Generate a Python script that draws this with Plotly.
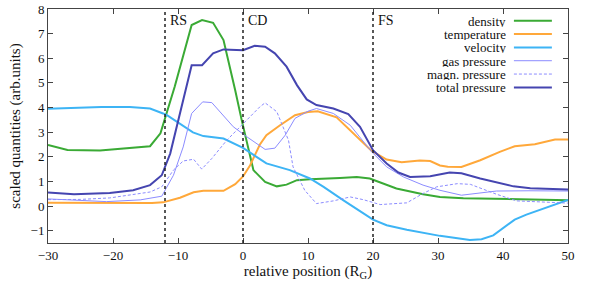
import plotly.graph_objects as go

# ---- data ----
density_x = [-30, -27, -22, -14.3, -12.7, -10.5, -7.9, -6.3, -4.6, -3.0, -1.2, -0.2, 1.6, 3.4, 5.2, 6.7, 8.3, 10.3, 14.9, 17.5, 19.5, 23.6, 27.7, 30.3, 33.9, 41.5, 50]
density_y = [2.48, 2.28, 2.26, 2.43, 2.95, 4.85, 7.35, 7.55, 7.44, 6.74, 4.7, 3.49, 1.46, 0.98, 0.8, 0.87, 1.05, 1.09, 1.14, 1.18, 1.12, 0.71, 0.48, 0.37, 0.32, 0.28, 0.24]

temperature_x = [-30, -14, -12.3, -9.7, -7.6, -6.1, -3.0, -1.2, 0, 1.1, 2.6, 3.6, 5.7, 8, 10, 11.5, 14.4, 17, 19.8, 22.1, 24.4, 27.2, 28.8, 30.3, 31.5, 33.6, 36.5, 39.5, 41.8, 44.9, 48, 50]
temperature_y = [0.13, 0.12, 0.15, 0.34, 0.56, 0.62, 0.62, 0.89, 1.2, 1.66, 2.5, 2.88, 3.28, 3.69, 3.82, 3.85, 3.6, 2.95, 2.24, 1.89, 1.78, 1.85, 1.83, 1.65, 1.6, 1.59, 1.86, 2.2, 2.43, 2.51, 2.7, 2.7]

velocity_x = [-30, -21.8, -17.4, -14.3, -12.3, -11.7, -7.7, -6.1, -3.0, 0, 3.6, 7.2, 10.3, 12.4, 15.4, 20, 22.1, 25.2, 30.3, 34.9, 36.7, 38.5, 41.8, 43.6, 50]
velocity_y = [3.95, 4.02, 4.02, 3.96, 3.76, 3.69, 2.99, 2.84, 2.74, 2.36, 1.73, 1.46, 1.12, 0.78, 0.24, -0.55, -0.78, -0.96, -1.21, -1.38, -1.35, -1.19, -0.55, -0.35, 0.25]

gas_x = [-30, -21, -15.8, -12.5, -10.7, -9.2, -7.9, -6.2, -4.8, -3.3, -1.5, 0.6, 2.6, 3.4, 4.9, 6.5, 8.0, 10, 11.3, 13.9, 16.5, 19.8, 22.1, 24.7, 27.7, 30.3, 33.6, 39, 44, 50]
gas_y = [0.29, 0.18, 0.25, 0.4, 1.25, 2.4, 3.76, 4.23, 4.2, 3.76, 3.22, 2.81, 2.47, 2.3, 2.35, 2.88, 3.56, 3.85, 3.96, 3.76, 3.28, 2.2, 1.59, 1.18, 0.85, 0.64, 0.44, 0.61, 0.62, 0.61]

magn_x = [-30, -25, -20.5, -15.8, -14.3, -12.5, -10.7, -9.2, -7.6, -6.35, -4.8, -2.5, 0, 2.6, 3.4, 5.2, 7.0, 7.7, 9.5, 11.3, 13.9, 16.5, 18.5, 21.1, 25.2, 27.7, 29.8, 33, 35, 39, 42.1, 50]
magn_y = [0.26, 0.27, 0.33, 0.53, 0.57, 0.78, 1.46, 1.83, 1.9, 1.5, 1.93, 2.67, 3.35, 4.03, 4.19, 3.83, 2.67, 1.59, 0.64, 0.1, 0.21, 0.37, 0.26, 0.06, 0.13, 0.51, 0.78, 0.91, 0.88, 0.48, 0.21, 0.12]

total_x = [-30, -26, -20.5, -16.9, -14.3, -12.5, -11.2, -10.2, -7.9, -6.3, -4.6, -3.0, 0, 1.8, 3.4, 4.9, 6.7, 8.3, 9.8, 11.3, 13.9, 16.2, 18, 20, 22.1, 23.9, 25.7, 28.8, 31.8, 33.6, 36.5, 41.6, 44.2, 50]
total_y = [0.55, 0.48, 0.53, 0.64, 0.85, 1.25, 2.13, 3.22, 5.72, 5.72, 6.2, 6.36, 6.33, 6.51, 6.47, 6.2, 5.66, 4.91, 4.33, 4.1, 3.96, 3.73, 3.22, 2.27, 1.73, 1.36, 1.18, 1.21, 1.36, 1.33, 1.12, 0.8, 0.72, 0.67]

shock_x = [-12, 0, 20]
shock_labels = ["RS", "CD", "FS"]

x_ticks = [-30, -20, -10, 0, 10, 20, 30, 40, 50]
y_ticks = [-1, 0, 1, 2, 3, 4, 5, 6, 7, 8]

series = [
    ("density", density_x, density_y, "#3aaa35", 2, "solid"),
    ("temperature", temperature_x, temperature_y, "#ffa83a", 2, "solid"),
    ("velocity", velocity_x, velocity_y, "#3db4f5", 2, "solid"),
    ("gas pressure", gas_x, gas_y, "#8c8cff", 1, "solid"),
    ("magn. pressure", magn_x, magn_y, "#8c8cff", 1, "3px,2px"),
    ("total pressure", total_x, total_y, "#4545b0", 2, "solid"),
]

FONT = "Liberation Serif"

fig = go.Figure()
for name, xs, ys, col, w, dash in series:
    fig.add_trace(go.Scatter(x=xs, y=ys, mode="lines", name=name,
                             line=dict(color=col, width=w, dash=dash),
                             showlegend=False))

shapes = []
annotations = []
for sx, lab in zip(shock_x, shock_labels):
    shapes.append(dict(type="line", xref="x", yref="paper", x0=sx, x1=sx, y0=0, y1=1,
                       line=dict(color="#222", width=1.5, dash="dot"), layer="above"))
    annotations.append(dict(x=sx, y=1, xref="x", yref="paper", text=lab, showarrow=False,
                            xanchor="left", yanchor="top", xshift=3, yshift=-2,
                            font=dict(family=FONT, size=14, color="#111")))

# gnuplot-style key (text right-aligned, sample line on the right)
row_y = [0.95, 0.893, 0.836, 0.779, 0.722, 0.665]
for (name, xs, ys, col, w, dash), ry in zip(series, row_y):
    annotations.append(dict(x=0.883, y=ry, xref="paper", yref="paper", text=name,
                            showarrow=False, xanchor="right", yanchor="middle",
                            height=12, borderpad=0,
                            font=dict(family=FONT, size=13, color="#111")))
    shapes.append(dict(type="line", xref="paper", yref="paper", x0=0.896, x1=0.969,
                       y0=ry, y1=ry, line=dict(color=col, width=w, dash=dash)))

fig.update_layout(
    width=598, height=294,
    margin=dict(l=48, r=30, t=9, b=51, autoexpand=False),
    paper_bgcolor="white", plot_bgcolor="white",
    font=dict(family=FONT, size=13, color="#111"),
    shapes=shapes, annotations=annotations,
    showlegend=False,
)
fig.update_xaxes(range=[-30, 50], tickvals=x_ticks, ticks="inside", ticklen=5,
                 tickcolor="#444", showline=True, linecolor="#444", linewidth=1,
                 mirror="ticks", showgrid=False, zeroline=False, automargin=False,
                 tickfont=dict(family=FONT, size=13),
                 title=dict(text="relative position (R<sub>G</sub>)",
                            font=dict(family=FONT, size=15), standoff=2))
fig.update_yaxes(range=[-1.5, 8], tickvals=y_ticks, ticks="inside", ticklen=5,
                 tickcolor="#444", showline=True, linecolor="#444", linewidth=1,
                 mirror="ticks", showgrid=False, zeroline=False, automargin=False,
                 tickfont=dict(family=FONT, size=13),
                 title=dict(text="scaled quantities (arb.units)",
                            font=dict(family=FONT, size=15), standoff=6))

fig.write_html("out.html", config={"displayModeBar": False},
               post_script="document.body.style.margin='0';document.body.style.padding='0';")
